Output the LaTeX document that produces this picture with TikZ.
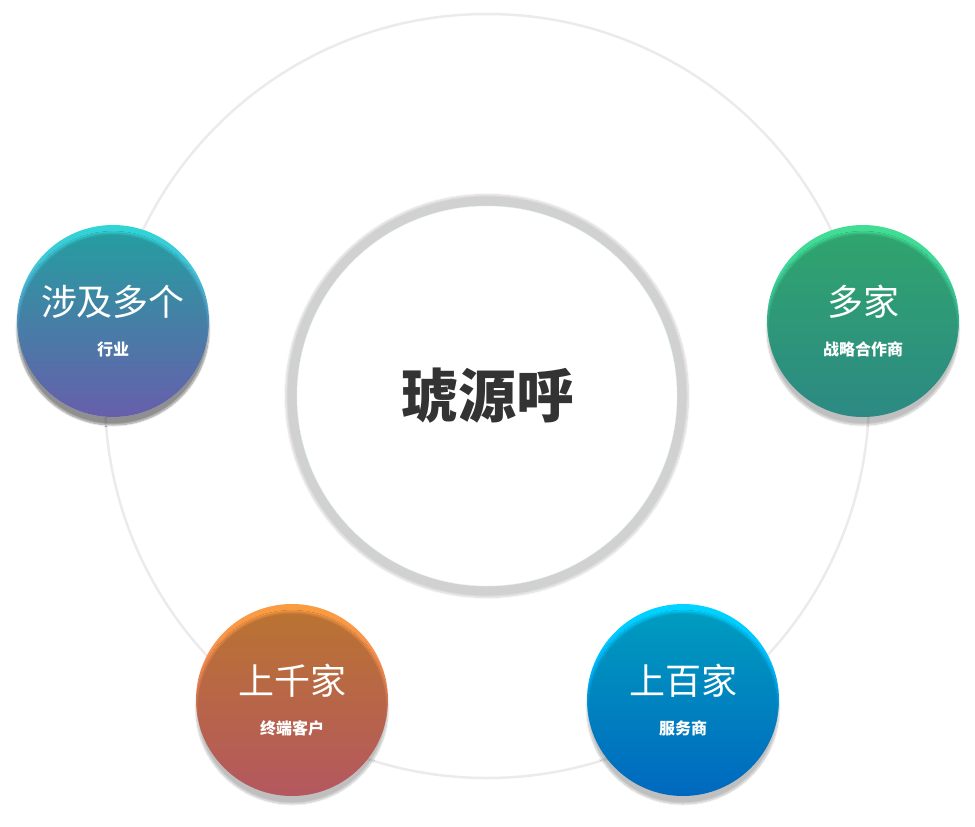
\documentclass[tikz,border=0pt]{standalone}
\usepackage{fontspec}
\newfontfamily\cjk{Noto Sans CJK SC}
\usetikzlibrary{shadows.blur}
\definecolor{ringgray}{HTML}{EBEBEB}
\definecolor{titlegray}{HTML}{333333}
\tikzset{
  ball/.style={circle,minimum size=192pt,inner sep=0pt,align=center,text=white,
    blur shadow={shadow xshift=0pt,shadow yshift=-8pt,shadow blur steps=12,shadow opacity=25}},
  big/.style={font=\cjk\fontsize{36}{40}\selectfont},
  small/.style={font=\cjk\bfseries\fontsize{16}{18}\selectfont}
}
\newcommand\balltext[2]{{\cjk\fontsize{36}{40}\selectfont #1}\\[22pt]{\cjk\bfseries\fontsize{16}{18}\selectfont #2}}
\begin{document}
\begin{tikzpicture}[x=1pt,y=-1pt]
\useasboundingbox (0,0) rectangle (975,827);
\draw[ringgray,line width=2.5pt] (487,396) circle (382);
% centre
\node[circle,minimum size=380pt,inner sep=0pt,fill=white,draw=cyan!12,
  blur shadow={shadow xshift=0pt,shadow yshift=0pt,shadow scale=1.06,shadow blur steps=14,shadow opacity=18}]
  (core) at (487,396) {};
\node[text=titlegray,font=\cjk\bfseries\fontsize{58}{60}\selectfont] (title) at (core) {琥源呼};
% outer balls
\node[ball,left color=white,shading=axis,shading angle=225,top color=white] at (113,321) {};
\shade[shading angle=225,top color={rgb,255:red,47;green,214;blue,214},bottom color={rgb,255:red,138;green,127;blue,230}]
  (113,321) circle (96);
\node[ball] (industry) at (113,321) {\balltext{涉及多个}{行业}};
\shade[shading angle=180,top color={rgb,255:red,64;green,222;blue,146},bottom color={rgb,255:red,60;green,184;blue,176}]
  (863,321) circle (96);
\node[ball] (partner) at (863,321) {\balltext{多家}{战略合作商}};
\shade[shading angle=225,top color={rgb,255:red,250;green,156;blue,64},bottom color={rgb,255:red,241;green,117;blue,128}]
  (292,700) circle (96);
\node[ball] (client) at (292,700) {\balltext{上千家}{终端客户}};
\shade[shading angle=225,top color={rgb,255:red,0;green,212;blue,255},bottom color={rgb,255:red,0;green,140;blue,255}]
  (683,700) circle (96);
\node[ball] (vendor) at (683,700) {\balltext{上百家}{服务商}};
\end{tikzpicture}
\end{document}
